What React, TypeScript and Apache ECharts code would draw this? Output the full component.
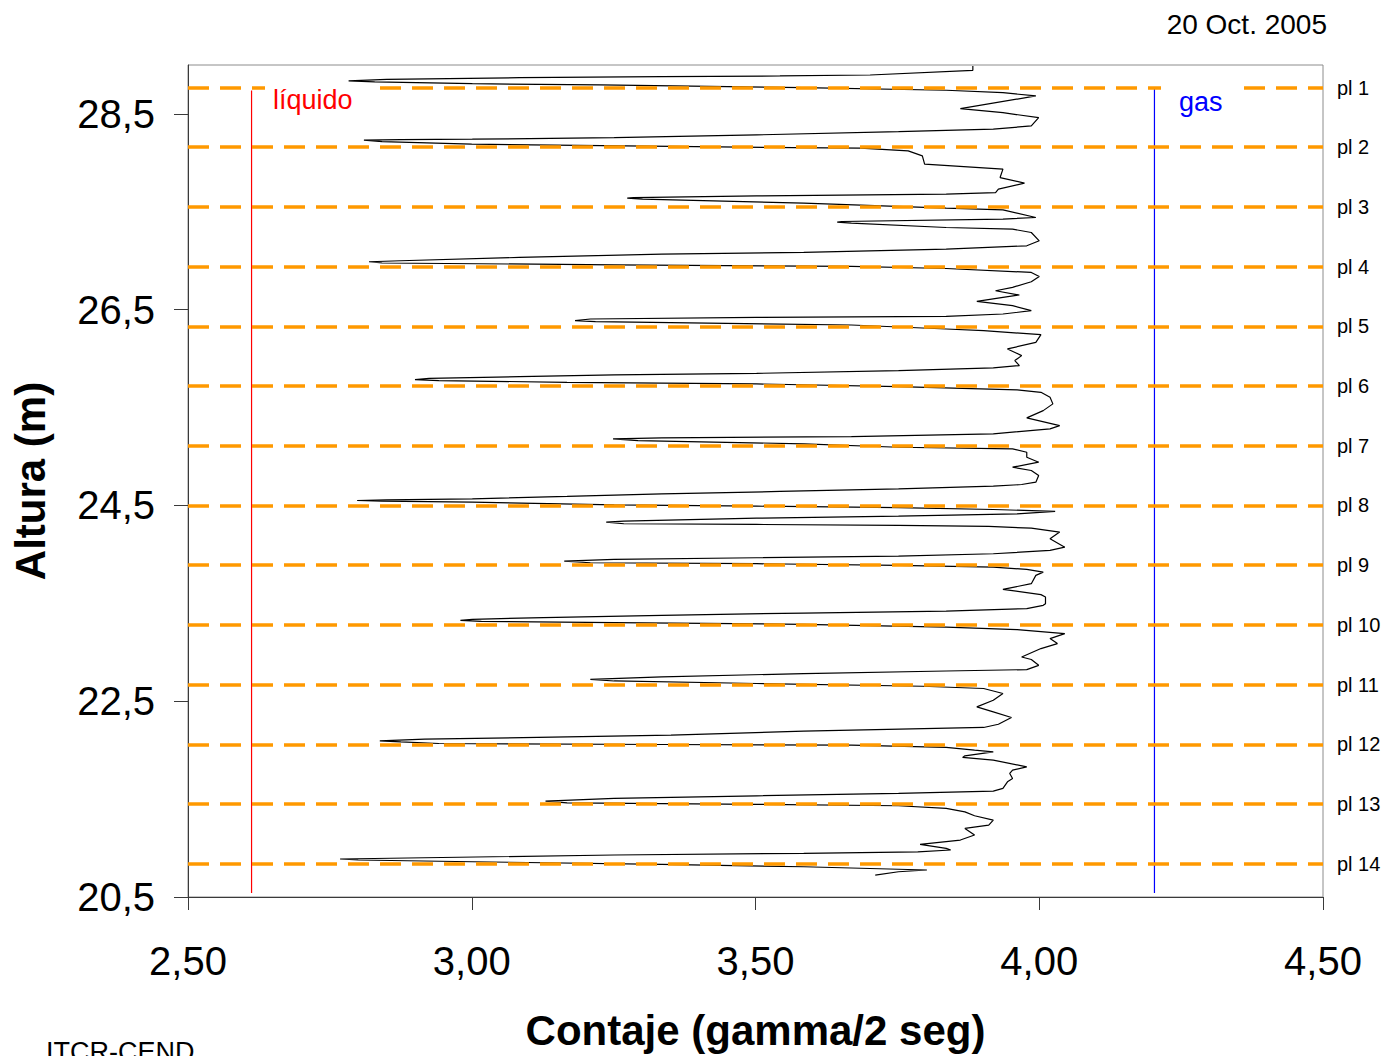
import React, { useEffect, useRef } from "react";
import * as echarts from "echarts";

const FONT = "'Liberation Sans', Arial, sans-serif";

// Scan profile (top to bottom): height (m) and count rate (gamma/2 seg)
const scanHeights = [
  28.99, 28.946, 28.898, 28.888, 28.881, 28.87, 28.854, 28.837, 28.827, 28.809,
  28.796, 28.768, 28.742, 28.717, 28.684, 28.554, 28.513, 28.462, 28.378, 28.344,
  28.319, 28.286, 28.258, 28.242, 28.238, 28.232, 28.217, 28.191, 28.163, 28.15,
  28.122, 28.071, 27.987, 27.936, 27.85, 27.793, 27.732, 27.697, 27.681, 27.663,
  27.646, 27.64, 27.63, 27.589, 27.538, 27.52, 27.442, 27.426, 27.401, 27.395,
  27.385, 27.34, 27.323, 27.289, 27.204, 27.153, 27.119, 27.085, 27.068, 27.034,
  27.0, 26.99, 26.977, 26.959, 26.942, 26.921, 26.881, 26.84, 26.786, 26.728,
  26.694, 26.65, 26.626, 26.585, 26.541, 26.49, 26.456, 26.432, 26.421, 26.405,
  26.388, 26.378, 26.344, 26.303, 26.286, 26.245,
  26.166, 26.099, 26.031, 25.98, 25.929, 25.905, 25.878, 25.85, 25.834, 25.816,
  25.799, 25.786, 25.776, 25.758, 25.742, 25.714, 25.681, 25.656, 25.605, 25.538,
  25.469, 25.395, 25.316, 25.283, 25.232, 25.204, 25.191, 25.181, 25.163, 25.13,
  25.095, 25.079, 25.044, 24.993, 24.942, 24.891, 24.857, 24.806, 24.738, 24.714,
  24.697, 24.67, 24.643, 24.619, 24.592, 24.568, 24.558, 24.551, 24.544, 24.534,
  24.507, 24.493, 24.477, 24.459, 24.439, 24.415, 24.391, 24.37, 24.34, 24.33,
  24.313, 24.306, 24.296, 24.286, 24.268, 24.228, 24.16, 24.074, 24.041, 24.007,
  23.983, 23.966, 23.949, 23.932, 23.915, 23.905, 23.888, 23.87, 23.847, 23.819,
  23.786, 23.701, 23.643, 23.589, 23.564, 23.497, 23.48, 23.446, 23.421, 23.401,
  23.378, 23.354, 23.337, 23.327, 23.316, 23.303, 23.286, 23.258, 23.232, 23.191,
  23.14, 23.089, 23.038, 22.952, 22.926, 22.867, 22.823, 22.809, 22.783, 22.748,
  22.724, 22.707, 22.681, 22.653, 22.63, 22.579, 22.51, 22.442, 22.391, 22.334,
  22.265, 22.232, 22.194, 22.153, 22.136, 22.112, 22.095, 22.085, 22.068, 22.058,
  22.051, 22.028, 22.0, 21.983, 21.942, 21.926, 21.898, 21.83, 21.796, 21.762,
  21.711, 21.677, 21.609, 21.582, 21.558, 21.534, 21.507, 21.48, 21.462, 21.446,
  21.432, 21.405, 21.37, 21.33, 21.286, 21.235, 21.201, 21.133, 21.082, 21.038,
  20.997, 20.98, 20.962, 20.946, 20.929, 20.901, 20.888, 20.878, 20.86, 20.834,
  20.809, 20.776, 20.758, 20.724,
];

const scanCounts = [
  3.883, 3.883, 3.702, 3.543, 3.335, 3.084, 2.85, 2.783, 2.829, 3.001,
  3.226, 3.585, 3.836, 3.936, 3.994, 3.861, 3.936, 3.999, 3.986, 3.919,
  3.752, 3.502, 3.251, 3.001, 2.875, 2.81, 2.842, 3.0, 3.435, 3.685,
  3.769, 3.794, 3.798, 3.936, 3.931, 3.974, 3.928, 3.923, 3.836, 3.502,
  3.285, 3.274, 3.301, 3.585, 3.836, 3.936, 3.994, 3.936, 3.652, 3.644,
  3.669, 3.836, 3.953, 3.986, 4.0, 3.978, 3.836, 3.585, 3.335, 3.084,
  2.875, 2.819, 2.842, 3.251, 3.669, 3.836, 3.986, 4.0, 3.986, 3.953,
  3.923, 3.965, 3.936, 3.89, 3.953, 3.986, 3.936, 3.836, 3.502, 3.209,
  3.182, 3.218, 3.669, 3.836, 3.902, 4.003,
  3.994, 3.944, 3.969, 3.957, 3.965, 3.919, 3.752, 3.502, 3.251, 3.084,
  2.925, 2.9, 2.942, 3.168, 3.502, 3.752, 3.961, 4.003, 4.019, 4.024,
  4.007, 3.978, 4.036, 4.019, 3.919, 3.669, 3.335, 3.249, 3.293, 3.585,
  3.752, 3.953, 3.978, 3.978, 3.999, 3.953, 3.986, 3.999, 3.994, 3.969,
  3.919, 3.752, 3.543, 3.335, 3.168, 3.001, 2.85, 2.798, 2.842, 3.001,
  3.251, 3.502, 3.752, 3.919, 4.028, 3.961, 3.752, 3.502, 3.268, 3.237,
  3.268, 3.502, 3.752, 3.911, 3.986, 4.036, 4.019, 4.045, 4.019, 3.919,
  3.752, 3.502, 3.251, 3.163, 3.209, 3.502, 3.752, 3.919, 3.978, 4.007,
  3.994, 3.986, 3.936, 4.003, 4.011, 4.011, 4.007, 3.978, 3.836, 3.585,
  3.335, 3.126, 3.001, 2.98, 3.017, 3.251, 3.585, 3.836, 3.961, 4.045,
  4.019, 4.032, 4.003, 3.969, 3.986, 3.999, 3.978, 3.836, 3.585, 3.335,
  3.209, 3.251, 3.502, 3.794, 3.902, 3.936, 3.919, 3.89, 3.919, 3.951,
  3.928, 3.902, 3.585, 3.351, 3.168, 2.917, 2.838, 2.875, 2.942, 3.335,
  3.669, 3.836, 3.886, 3.919, 3.869, 3.865, 3.919, 3.978, 3.953, 3.948,
  3.953, 3.944, 3.936, 3.919, 3.752, 3.502, 3.251, 3.13, 3.168, 3.502,
  3.752, 3.836, 3.869, 3.886, 3.919, 3.911, 3.869, 3.886, 3.861, 3.79,
  3.836, 3.844, 3.786, 3.585, 3.251, 2.917, 2.768, 2.8, 3.001, 3.335,
  3.585, 3.802, 3.752, 3.711,
];

// Plate (tray) heights and labels
const plateHeights = [28.77, 28.16, 27.55, 26.94, 26.33, 25.72, 25.11, 24.5, 23.89, 23.28, 22.67, 22.06, 21.45, 20.84];
const plateLabels = ["pl 1", "pl 2", "pl 3", "pl 4", "pl 5", "pl 6", "pl 7", "pl 8", "pl 9", "pl 10", "pl 11", "pl 12", "pl 13", "pl 14"];

// Reference levels: liquid and gas count rates
const liquidRef = [[2.612, 28.74], [2.612, 20.54]];
const gasRef = [[4.203, 28.76], [4.203, 20.54]];

// Axis ticks
const xTicks = [2.5, 3.0, 3.5, 4.0, 4.5];
const yTicks = [20.5, 22.5, 24.5, 26.5, 28.5];

export default function App() {
  const ref = useRef<HTMLDivElement>(null);

  useEffect(() => {
    if (!ref.current) return;
    const chart = echarts.init(ref.current, null, { renderer: "svg" });
    const n = Math.min(scanHeights.length, scanCounts.length);
    const trace: number[][] = [];
    for (let i = 0; i < n; i++) trace.push([scanCounts[i], scanHeights[i]]);

    const axisColor = "#3a3a3a";

    chart.setOption({
      animation: false,
      backgroundColor: "#ffffff",
      textStyle: { fontFamily: FONT },
      grid: {
        left: 188,
        right: 65,
        top: 65,
        bottom: 159,
        containLabel: false,
        outerBoundsMode: "none",
        show: true,
        borderColor: "#8c8c8c",
        borderWidth: 1,
        backgroundColor: "transparent",
      },
      xAxis: {
        type: "value",
        min: xTicks[0],
        max: xTicks[xTicks.length - 1],
        interval: 0.5,
        axisLine: { show: true, onZero: false, lineStyle: { color: axisColor, width: 1 } },
        axisTick: { show: true, length: 13, lineStyle: { color: axisColor } },
        splitLine: { show: false },
        axisLabel: {
          fontSize: 40,
          color: "#000",
          margin: 44,
          fontFamily: FONT,
          formatter: (v: number) => v.toFixed(2).replace(".", ","),
        },
        name: "Contaje (gamma/2 seg)",
        nameLocation: "middle",
        nameGap: 112,
        nameTextStyle: { fontSize: 42, fontWeight: "bold", color: "#000", fontFamily: FONT },
      },
      yAxis: {
        type: "value",
        min: 20.5,
        max: 29,
        axisLine: { show: true, lineStyle: { color: axisColor, width: 1 } },
        axisTick: { show: true, length: 14, customValues: yTicks, lineStyle: { color: axisColor } },
        splitLine: { show: false },
        axisLabel: {
          fontSize: 40,
          color: "#000",
          margin: 33,
          fontFamily: FONT,
          customValues: yTicks,
          formatter: (v: number) => v.toFixed(1).replace(".", ","),
        },
        name: "Altura (m)",
        nameLocation: "middle",
        nameGap: 137,
        nameTextStyle: { fontSize: 42, fontWeight: "bold", color: "#000", fontFamily: FONT },
      },
      series: [
        {
          name: "scan",
          type: "line",
          data: trace,
          symbol: "none",
          lineStyle: { color: "#000", width: 1.2 },
          silent: true,
          z: 2,
        },
        {
          name: "liquido",
          type: "line",
          data: liquidRef,
          symbol: "none",
          lineStyle: { color: "#ff0000", width: 1.2 },
          silent: true,
          z: 2,
        },
        {
          name: "gas",
          type: "line",
          data: gasRef,
          symbol: "none",
          lineStyle: { color: "#0000ff", width: 1.2 },
          silent: true,
          z: 2,
        },
        {
          name: "plates",
          type: "line",
          data: [],
          z: 3,
          silent: true,
          markLine: {
            silent: true,
            symbol: ["none", "none"],
            animation: false,
            lineStyle: { color: "#ff9900", width: 3.5, type: [21, 11] },
            label: {
              show: true,
              position: "end",
              distance: 14,
              formatter: "{b}",
              fontSize: 20,
              color: "#000",
              fontFamily: FONT,
            },
            emphasis: { disabled: true },
            data: plateHeights.map((h, i) => ({ yAxis: h, name: plateLabels[i] })),
          },
        },
      ],
      graphic: [
        { type: "rect", shape: { x: 265, y: 83, width: 113, height: 37 }, style: { fill: "#ffffff" }, z: 10, silent: true },
        { type: "rect", shape: { x: 1161, y: 83, width: 74, height: 40 }, style: { fill: "#ffffff" }, z: 10, silent: true },
        {
          type: "text", x: 273, y: 100, z: 11, silent: true,
          style: { text: "líquido", fill: "#ff0000", font: `27px ${FONT}`, textAlign: "left", textVerticalAlign: "middle" },
        },
        {
          type: "text", x: 1179, y: 102, z: 11, silent: true,
          style: { text: "gas", fill: "#0000ff", font: `27px ${FONT}`, textAlign: "left", textVerticalAlign: "middle" },
        },
        {
          type: "text", x: 1327, y: 24, z: 11, silent: true,
          style: { text: "20 Oct. 2005", fill: "#000", font: `28px ${FONT}`, textAlign: "right", textVerticalAlign: "middle" },
        },
        {
          type: "text", x: 46, y: 1052, z: 11, silent: true,
          style: { text: "ITCR-CEND", fill: "#000", font: `27px ${FONT}`, textAlign: "left", textVerticalAlign: "middle" },
        },
      ],
    });

    return () => chart.dispose();
  }, []);

  return (
    <div
      ref={ref}
      style={{ position: "fixed", left: 0, top: 0, width: 1388, height: 1056, background: "#fff" }}
    />
  );
}
